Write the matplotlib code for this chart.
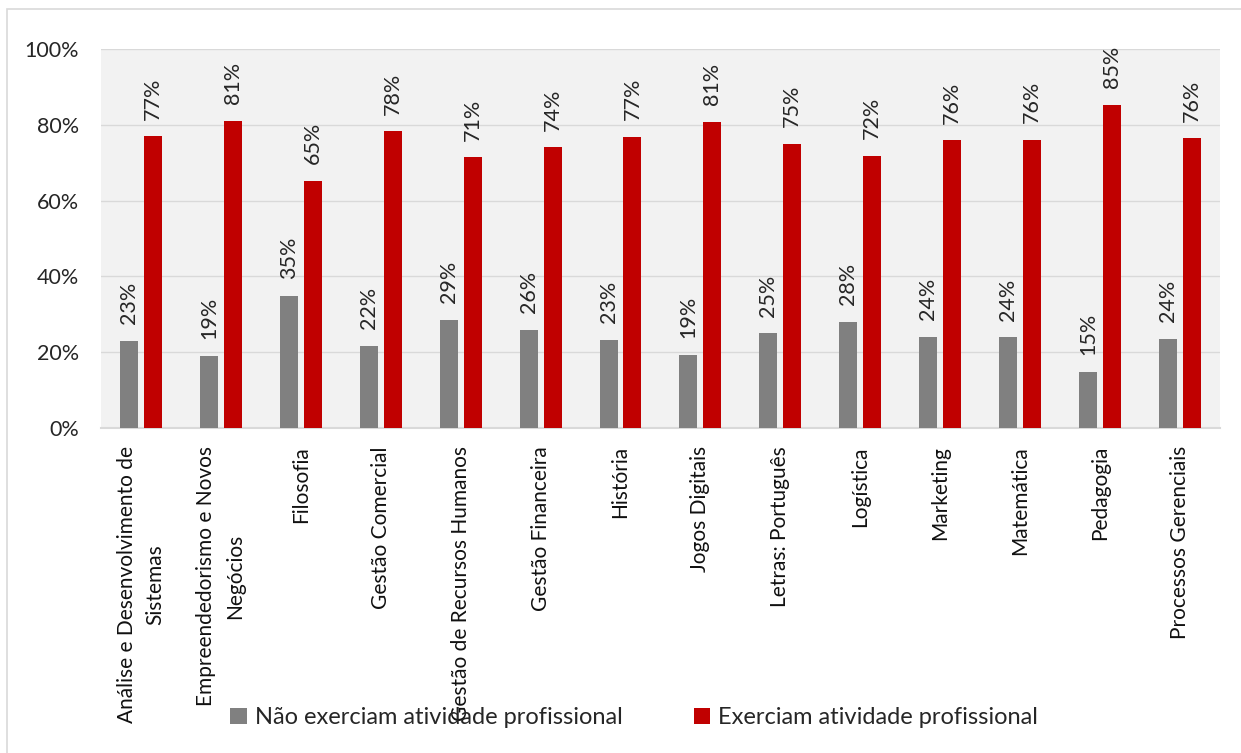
import matplotlib
matplotlib.use("Agg")
import matplotlib.pyplot as plt
import numpy as np
from matplotlib.patches import Rectangle, Patch

plt.rcParams['font.family'] = ['Lato', 'DejaVu Sans']

cursos = ['Análise e Desenvolvimento de\nSistemas', 'Empreendedorismo e Novos\nNegócios',
          'Filosofia', 'Gestão Comercial', 'Gestão de Recursos Humanos',
          'Gestão Financeira', 'História', 'Jogos Digitais', 'Letras: Português',
          'Logística', 'Marketing', 'Matemática', 'Pedagogia', 'Processos Gerenciais']
nao_exerciam = [23.0, 19.0, 34.8, 21.7, 28.6, 25.9, 23.2, 19.3, 25.0, 28.1, 24.1, 23.9, 14.8, 23.6]
exerciam = [77.0, 81.0, 65.2, 78.3, 71.4, 74.1, 76.8, 80.7, 75.0, 71.9, 75.9, 76.1, 85.2, 76.4]
series_labels = ['Não exerciam atividade profissional', 'Exerciam atividade profissional']
yticks = [0, 20, 40, 60, 80, 100]

GRAY = '#808080'
RED = '#c00000'
GRID = '#d9d9d9'
TXT = '#262626'

fig = plt.figure(figsize=(12.41, 7.53), dpi=100)
ax = fig.add_axes([0.0814, 0.4316, 0.9016, 0.5033])
ax.set_facecolor('#f2f2f2')

# light border of the chart area (only left/top visible in the crop)
fig.patches.append(Rectangle((7 / 1241, -0.05), 1.1, 1 - 9 / 753 + 0.05,
                             transform=fig.transFigure, fill=False,
                             edgecolor=GRID, lw=1.2))

x = np.arange(len(cursos))
w = 0.225
off = 0.15
b1 = ax.bar(x - off, nao_exerciam, w, color=GRAY, zorder=3)
b2 = ax.bar(x + off, exerciam, w, color=RED, zorder=3)

for bars, vals in ((b1, nao_exerciam), (b2, exerciam)):
    for rect, v in zip(bars, vals):
        ax.annotate(f'{v:.0f}%', (rect.get_x() + rect.get_width() / 2, rect.get_height()),
                    xytext=(0, 12), textcoords='offset points', rotation=90,
                    ha='center', va='bottom', fontsize=15.5, color=TXT)

ax.set_xlim(-0.5, len(cursos) - 0.5)
ax.set_ylim(0, 100)
ax.set_yticks(yticks)
ax.set_yticklabels([f'{t}%' for t in yticks], fontsize=15.5, color=TXT)
ax.yaxis.grid(True, color=GRID, lw=1, zorder=0)
ax.set_axisbelow(True)
ax.tick_params(axis='both', length=0)
ax.tick_params(axis='y', pad=16)
ax.set_xticks(x)
ax.set_xticklabels(cursos, rotation=90, fontsize=15, color='#111111',
                   ha='center', va='top', multialignment='center', linespacing=1.55)
ax.tick_params(axis='x', pad=13)
for s in ('left', 'right', 'top'):
    ax.spines[s].set_visible(False)
ax.spines['bottom'].set_color(GRID)
ax.spines['bottom'].set_linewidth(1.5)

handles = [Patch(facecolor=GRAY), Patch(facecolor=RED)]
fig.legend(handles, series_labels, loc='center', bbox_to_anchor=(0.511, 0.0465),
           ncol=2, frameon=False, fontsize=17, handlelength=0.7, handleheight=0.7,
           handletextpad=0.35, columnspacing=3.0, labelcolor=TXT)

fig.savefig('out.png', dpi=100)
